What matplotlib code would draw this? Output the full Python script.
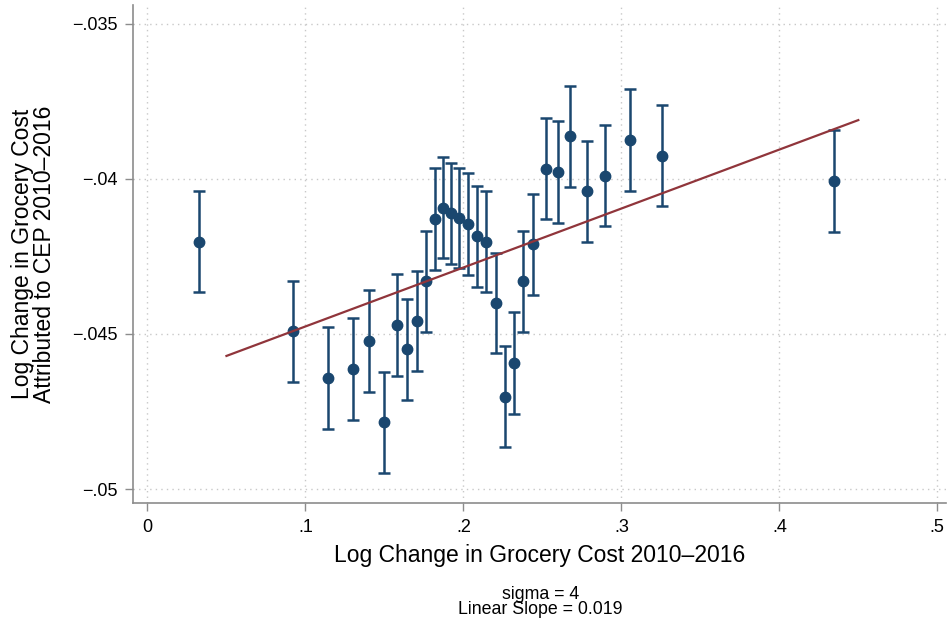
import numpy as np
import matplotlib.pyplot as plt

# binned means of grocery cost change vs. CEP-attributed change
x_bin = [0.0327, 0.0922, 0.1144, 0.1298, 0.1405, 0.1500, 0.1580, 0.1644, 0.1705, 0.1764,
         0.1821, 0.1872, 0.1922, 0.1975, 0.2030, 0.2085, 0.2142, 0.2205, 0.2264, 0.2323,
         0.2378, 0.2441, 0.2524, 0.2597, 0.2677, 0.2781, 0.2899, 0.3053, 0.3259, 0.4344]
y_bin = [-0.04203, -0.04491, -0.04642, -0.04613, -0.04523, -0.04785, -0.04472, -0.04550,
         -0.04458, -0.04330, -0.04130, -0.04093, -0.04111, -0.04127, -0.04146, -0.04186,
         -0.04203, -0.04400, -0.04703, -0.04594, -0.04330, -0.04211, -0.03968, -0.03978,
         -0.03863, -0.04040, -0.03990, -0.03875, -0.03926, -0.04008]
ci_half = [0.00162, 0.00163, 0.00163, 0.00163, 0.00163, 0.00163, 0.00164, 0.00163, 0.00162,
           0.00163, 0.00164, 0.00163, 0.00163, 0.00162, 0.00163, 0.00163, 0.00163, 0.00162,
           0.00163, 0.00163, 0.00163, 0.00163, 0.00163, 0.00163, 0.00163, 0.00163, 0.00163,
           0.00163, 0.00163, 0.00164]

sigma = 4
slope = 0.019
intercept = -0.04666
fit_range = [0.05, 0.45]

xticks = [0, 0.1, 0.2, 0.3, 0.4, 0.5]
xtick_labels = ["0", ".1", ".2", ".3", ".4", ".5"]
yticks = [-0.05, -0.045, -0.04, -0.035]
ytick_labels = ["\u2212.05", "\u2212.045", "\u2212.04", "\u2212.035"]

navy = "#1a476f"
maroon = "#90353b"
sans = ["Liberation Sans", "DejaVu Sans"]

fig = plt.figure(figsize=(9.49, 6.24), dpi=100)
ax = fig.add_axes([0.1401, 0.1934, 0.8567, 0.7986])

ax.errorbar(x_bin, y_bin, yerr=ci_half, fmt="o", color=navy, ms=7.5,
            elinewidth=1.8, capsize=4, capthick=1.8, zorder=3)

fx = np.array(fit_range)
ax.plot(fx, intercept + slope * fx, color=maroon, lw=1.6, zorder=4)

ax.set_xlim(-0.0092, 0.5055)
ax.set_ylim(-0.05046, -0.03440)
ax.set_xticks(xticks)
ax.set_xticklabels(xtick_labels, family=sans, fontsize=13)
ax.set_yticks(yticks)
ax.set_yticklabels(ytick_labels, family=sans, fontsize=13)

ax.grid(True, color="#c8c8c8", ls=(0, (1, 3)), lw=1.0)
ax.set_axisbelow(True)
for side in ["top", "right"]:
    ax.spines[side].set_visible(False)
for side in ["left", "bottom"]:
    ax.spines[side].set_color("#8c8c8c")
    ax.spines[side].set_linewidth(1.2)
ax.tick_params(direction="out", length=6, width=1, color="#8c8c8c", pad=5)

ax.set_xlabel("Log Change in Grocery Cost 2010\u20132016", family=sans,
              fontsize=16.5, labelpad=6)
ax.set_ylabel("Log Change in Grocery Cost\nAttributed to CEP 2010\u20132016",
              family=sans, fontsize=16.5, labelpad=12, linespacing=0.9)

fig.text(0.5695, 0.035, "sigma = %d\nLinear Slope = %.3f" % (sigma, slope),
         ha="center", va="center", family=sans, fontsize=12.8, linespacing=0.85)

fig.savefig("out.png", dpi=100)
